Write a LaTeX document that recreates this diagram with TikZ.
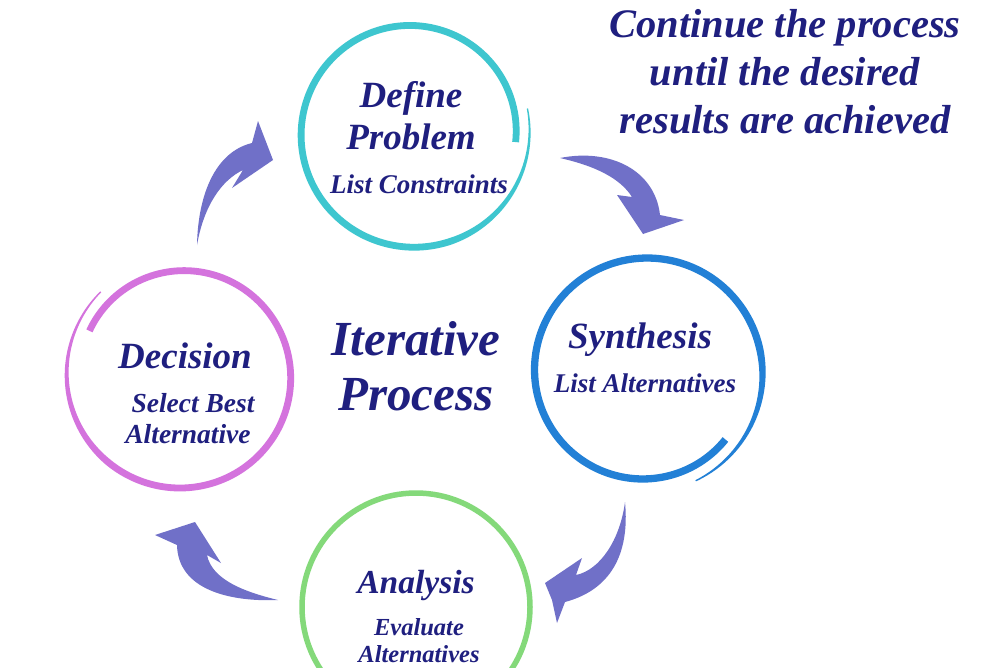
\documentclass[tikz,border=0pt]{standalone}
\usepackage{fontspec}
\setmainfont{Liberation Serif}
\definecolor{navy}{RGB}{31,31,127}
\definecolor{cyanc}{RGB}{62,198,207}
\definecolor{bluec}{RGB}{34,128,214}
\definecolor{violetc}{RGB}{212,115,221}
\definecolor{greenc}{RGB}{132,217,122}
\definecolor{arrowc}{RGB}{112,112,200}
\newcommand{\brushring}[8]{% cx cy th1 th2 r1 r2 width-function colour
  \begin{scope}[declare function={tt(\a)=(\a-(#3))/((#4)-(#3)); rr(\a)=#5+(#6-#5)*tt(\a); ww(\a)=#7;}]
    \fill[#8] plot[domain=#3:#4,samples=160,smooth] ({#1+(rr(\x)+ww(\x)/2)*cos(\x)},{#2-(rr(\x)+ww(\x)/2)*sin(\x)})
      -- plot[domain=#4:#3,samples=160,smooth] ({#1+(rr(\x)-ww(\x)/2)*cos(\x)},{#2-(rr(\x)-ww(\x)/2)*sin(\x)}) -- cycle;
  \end{scope}}
\tikzset{
  ttl/.style={text=navy, font=\bfseries\itshape\fontsize{37}{42}\selectfont, align=center, inner sep=0},
  sub/.style={text=navy, font=\bfseries\itshape\fontsize{27}{31}\selectfont, align=center, inner sep=0},
  big/.style={text=navy, font=\bfseries\itshape\fontsize{49}{55}\selectfont, align=center, inner sep=0},
  note/.style={text=navy, font=\bfseries\itshape\fontsize{40.5}{48}\selectfont, align=center, inner sep=0},
  arr/.style={fill=arrowc},
  hub/.style={circle, inner sep=0, minimum size=220pt, draw=none}
}
\begin{document}
\begin{tikzpicture}[x=1pt,y=-1pt]
\useasboundingbox (0,0) rectangle (1000,667);
\fill[white] (0,0) rectangle (1000,667);

% circles (named hubs)
\node[hub] (define) at (412,133) {};
\node[hub] (synth) at (645,372) {};
\node[hub] (decision) at (182,376) {};
\node[hub] (analysis) at (416,607) {};

% brush rings
\brushring{412}{133}{-5}{372}{104}{118}{1.3+5.5*min(1,(1-tt(\a))/0.22)}{cyanc}
\brushring{645}{372}{-65}{320}{120}{105}{1.3+6*min(1,tt(\a)/0.2)}{bluec}
\brushring{182}{376}{154}{-226}{103}{117}{1.3+5.5*min(1,(1-tt(\a))/0.25)}{violetc}
\draw[greenc, line width=5.5pt] (analysis.center) circle[radius=114];

% arrows
\fill[arr] (197,245) .. controls (198,195) and (215,152) .. (252,143)
  -- (258,121) -- (273,160) -- (232,188) -- (243,170)
  .. controls (222,180) and (204,205) .. (197,245) -- cycle;
\fill[arr] (560,158) .. controls (610,148) and (655,170) .. (660,215)
  -- (684,220) -- (643,234) -- (617,195) -- (632,197)
  .. controls (620,178) and (595,166) .. (560,158) -- cycle;
\fill[arr] (625,502) .. controls (630,555) and (610,590) .. (565,602)
  -- (557,623) -- (552,600) -- (545,583) -- (582,558) -- (576,575)
  .. controls (600,570) and (620,540) .. (625,502) -- cycle;
\fill[arr] (278,600) .. controls (230,602) and (178,590) .. (177,545)
  -- (155,535) -- (195,522) -- (221,563) -- (207,555)
  .. controls (212,580) and (245,592) .. (278,600) -- cycle;

% texts
\node[ttl] (defT) at (411,116) {Define\\Problem};
\node[sub] (defS) at (419,184) {List Constraints};
\node[ttl] (synT) at (640,340) {Synthesis};
\node[sub] (synS) at (645,383) {List Alternatives};
\node[ttl] (decT) at (185,356) {Decision};
\node[sub, font=\bfseries\itshape\fontsize{27.5}{31}\selectfont] (decS) at (188,419) {\hspace*{10pt}Select Best\\Alternative};
\node[ttl, font=\bfseries\itshape\fontsize{33.5}{40}\selectfont] (anaT) at (416,585) {Analysis};
\node[sub, font=\bfseries\itshape\fontsize{24.5}{27}\selectfont] (anaS) at (419,641) {Evaluate\\Alternatives};
\node[big] (iter) at (416,366) {Iterative\\Process};
\node[note] (cont) at (785,72) {Continue the process\\until the desired\\results are achieved};
\end{tikzpicture}
\end{document}
